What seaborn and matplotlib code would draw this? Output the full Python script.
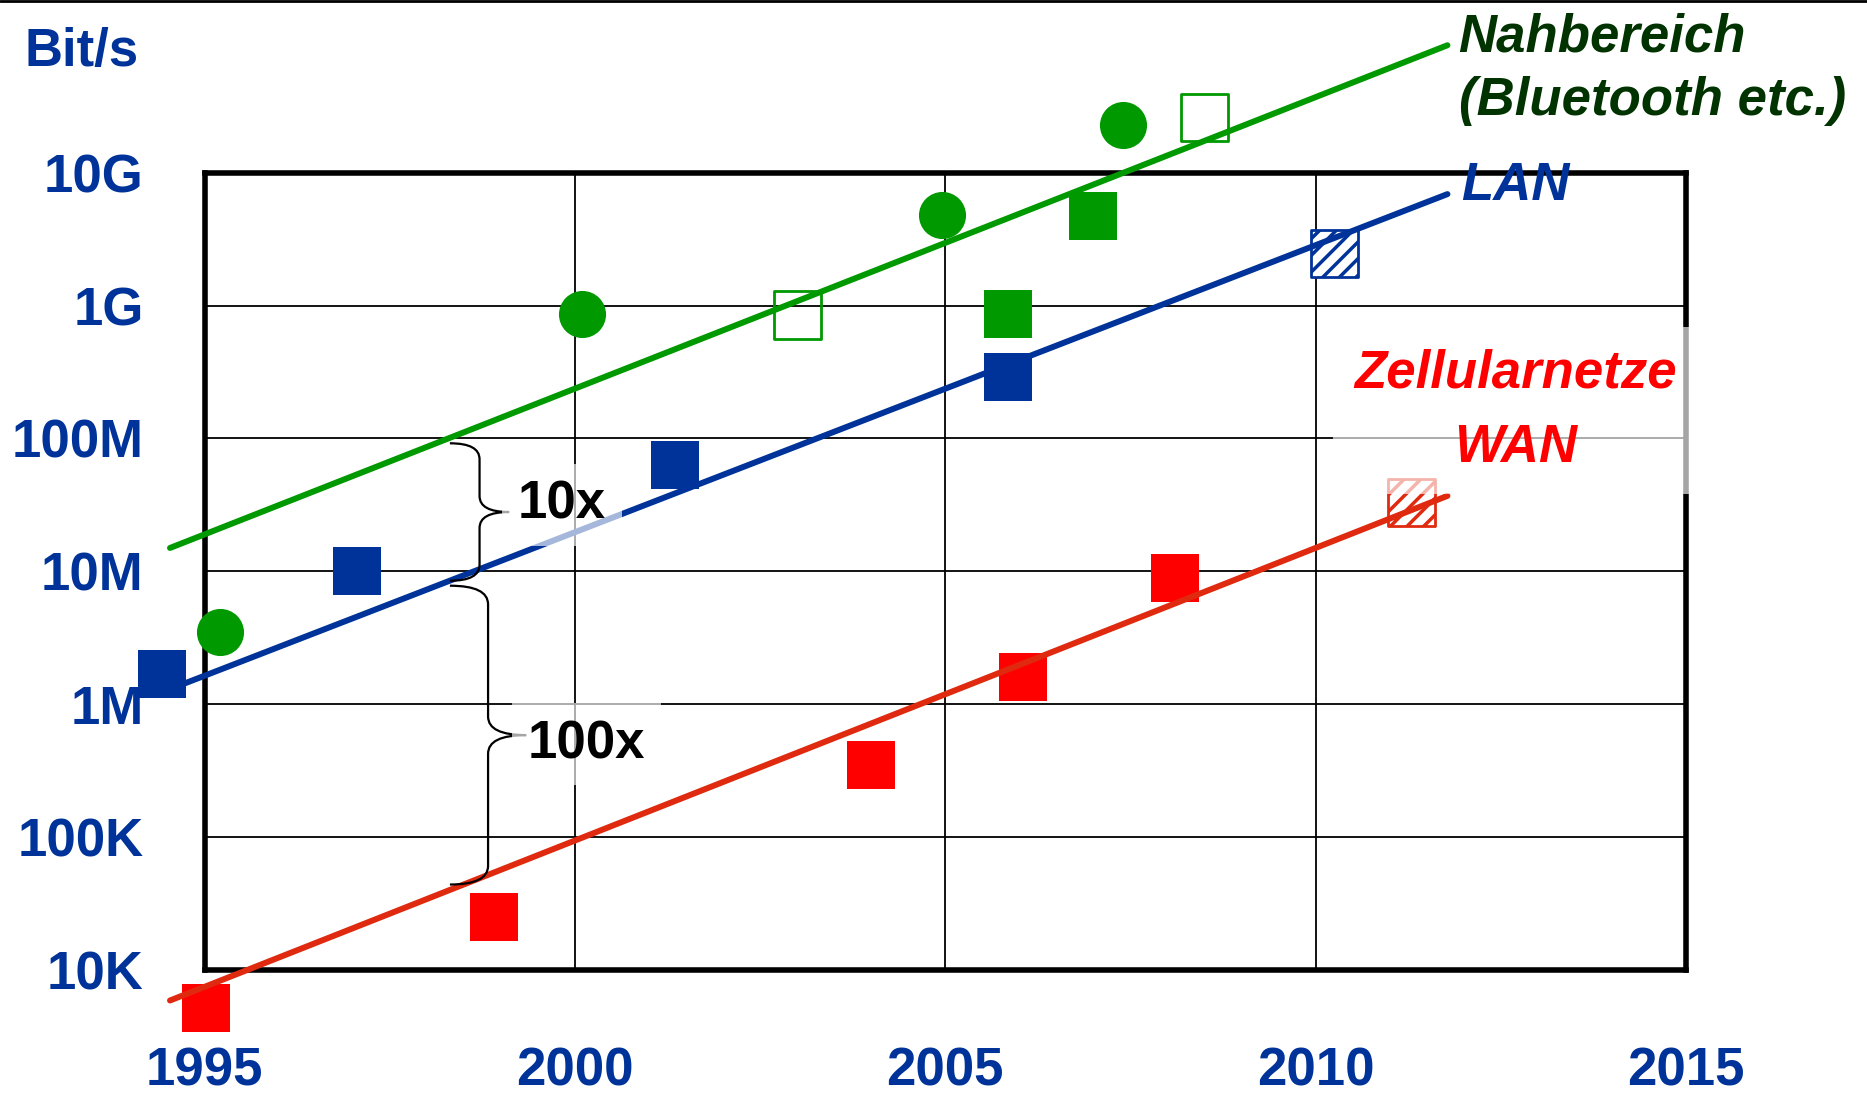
# Datenraten drahtloser Netze 1995-2015 (Nahbereich / LAN / WAN)
import numpy as np
import pandas as pd
import seaborn as sns
from matplotlib import pyplot as plt
from matplotlib.path import Path
from matplotlib.patches import PathPatch

# --- data -------------------------------------------------------------
# Nahbereich (Bluetooth etc.)
near_circle_years = [1995.2, 2000.1, 2004.95, 2007.4]
near_circle_bits  = [3.5e6, 8.7e8, 4.8e9, 2.3e10]
near_square_years = [2005.85, 2007.0]
near_square_bits  = [8.7e8, 4.7e9]
near_open_years   = [2003.0, 2008.5]
near_open_bits    = [8.5e8, 2.6e10]

# LAN
lan_years       = [1994.42, 1997.06, 2001.35, 2005.85]
lan_bits        = [1.7e6, 1.0e7, 6.3e7, 2.9e8]
lan_hatch_years = [2010.26]
lan_hatch_bits  = [2.45e9]

# Zellularnetze / WAN
wan_years       = [1995.02, 1998.9, 2004.0, 2006.05, 2008.1]
wan_bits        = [5.2e3, 2.5e4, 3.5e5, 1.6e6, 8.9e6]
wan_hatch_years = [2011.3]
wan_hatch_bits  = [3.3e7]

# trend lines
trend_years = [1994.53, 2011.78]
near_trend  = [1.5e7, 9.1e10]
lan_trend   = [1.3e6, 6.9e9]
wan_trend   = [5.9e3, 3.7e7]

# braces (year of brace ends, top value, bottom value)
brace_10x  = (1998.31, 9.2e7, 8.5e6)
brace_100x = (1998.31, 7.8e6, 4.4e4)

x_ticks  = [1995, 2000, 2005, 2010, 2015]
y_ticks  = [1e4, 1e5, 1e6, 1e7, 1e8, 1e9, 1e10]
y_labels = ['10K', '100K', '1M', '10M', '100M', '1G', '10G']

# --- colours ----------------------------------------------------------
green      = '#009900'
dark_green = '#003300'
blue       = '#003399'
red        = '#FF0000'
red_line   = '#E02A10'

sns.set_theme(style='white')
plt.rcParams['font.family'] = ['Liberation Sans', 'DejaVu Sans']
plt.rcParams['hatch.linewidth'] = 2.5
font_size = 38

fig = plt.figure(figsize=(18.67, 10.93), dpi=100)
ax = fig.add_axes([0.1097, 0.1125, 0.7933, 0.7295])
ax.set_yscale('log')
ax.set_xlim(1995, 2015)
ax.set_ylim(1e4, 1e10)

marker_size = 1150


def scatter(years, bits, marker, face, edge, z, hatch=None, lw=0):
    df = pd.DataFrame({'year': years, 'bits': bits})
    with plt.rc_context({'hatch.color': edge}):
        sns.scatterplot(data=df, x='year', y='bits', ax=ax, marker=marker,
                        s=marker_size, color=face, edgecolor=edge,
                        linewidth=lw, hatch=hatch, clip_on=False,
                        zorder=z, legend=False)


def trend(bits, color, z):
    df = pd.DataFrame({'year': trend_years, 'bits': bits})
    sns.lineplot(data=df, x='year', y='bits', ax=ax, color=color,
                 linewidth=4.3, clip_on=False, zorder=z)


def brace(spec, w, r):
    x0, v_top, v_bot = spec
    lt, lb = np.log10(v_top), np.log10(v_bot)
    lm = (lt + lb) / 2
    pts = [(x0, lt), (x0 + w, lt), (x0 + w, lt - r), (x0 + w, lm + r),
           (x0 + w, lm), (x0 + 2 * w, lm), (x0 + w, lm), (x0 + w, lm - r),
           (x0 + w, lb + r), (x0 + w, lb), (x0, lb)]
    codes = [Path.MOVETO, Path.CURVE3, Path.CURVE3, Path.LINETO,
             Path.CURVE3, Path.CURVE3, Path.CURVE3, Path.CURVE3,
             Path.LINETO, Path.CURVE3, Path.CURVE3]
    verts = [(x, 10 ** y) for x, y in pts]
    ax.add_patch(PathPatch(Path(verts, codes), fc='none', ec='black',
                           lw=1.6, clip_on=False, zorder=4))


# LAN: markers above the line
trend(lan_trend, blue, 3)
scatter(lan_years, lan_bits, 's', blue, blue, 3.5)
scatter(lan_hatch_years, lan_hatch_bits, 's', 'white', blue, 2.8,
        hatch='//', lw=2)

# Nahbereich and WAN: line above the markers
scatter(near_circle_years, near_circle_bits, 'o', green, green, 2.8)
scatter(near_square_years, near_square_bits, 's', green, green, 2.8)
scatter(near_open_years, near_open_bits, 's', 'none', green, 2.8, lw=2)
trend(near_trend, green, 3.2)

scatter(wan_years, wan_bits, 's', red, red, 2.8)
scatter(wan_hatch_years, wan_hatch_bits, 's', 'white', red_line, 2.8,
        hatch='//', lw=2)
trend(wan_trend, red_line, 3.2)

# axes, grid and ticks
ax.set_xticks(x_ticks)
ax.set_yticks(y_ticks)
ax.set_yticklabels(y_labels)
ax.minorticks_off()
ax.grid(True, color='black', linewidth=1.3)
ax.set_xlabel('')
ax.set_ylabel('')
ax.tick_params(axis='both', length=0, labelsize=font_size,
               labelcolor=blue)
ax.tick_params(axis='y', pad=44)
ax.tick_params(axis='x', pad=55)
for lab in ax.get_xticklabels() + ax.get_yticklabels():
    lab.set_fontweight('bold')
for sp in ax.spines.values():
    sp.set_color('black')
    sp.set_linewidth(4)

# braces and factors
brace(brace_10x, 0.40, 0.12)
brace(brace_100x, 0.515, 0.14)
box = dict(boxstyle='square,pad=0.3', fc='white', ec='none', alpha=0.65)
ax.text(1999.23, 10 ** 7.50, '10x', fontsize=font_size, fontweight='bold',
        color='black', ha='left', va='center', bbox=box, zorder=5)
ax.text(1999.36, 10 ** 5.70, '100x', fontsize=font_size, fontweight='bold',
        color='black', ha='left', va='center', bbox=box, zorder=5)

# series labels
ax.text(2011.93, 10 ** 10.78, 'Nahbereich\n(Bluetooth etc.)',
        fontsize=font_size, fontweight='bold', fontstyle='italic',
        color=dark_green, ha='left', va='center', linespacing=1.34,
        clip_on=False, zorder=5)
ax.text(2011.96, 10 ** 9.90, 'LAN', fontsize=font_size, fontweight='bold',
        fontstyle='italic', color=blue, ha='left', va='center',
        clip_on=False, zorder=5)
ax.text(2012.7, 10 ** 8.21, 'Zellularnetze\nWAN', fontsize=font_size,
        fontweight='bold', fontstyle='italic', color=red, ha='center',
        va='center', linespacing=1.63, multialignment='center',
        bbox=dict(boxstyle='square,pad=0.4', fc='white', ec='none',
                  alpha=0.65), clip_on=False, zorder=5)

# unit label
fig.text(0.013, 0.952, 'Bit/s', fontsize=font_size, fontweight='bold',
         color=blue, ha='left', va='center')

# thin frame line at the top of the slide
fig.add_artist(plt.Line2D([0, 1], [0.999, 0.999], transform=fig.transFigure,
                          color='black', linewidth=2))

fig.savefig('out.png', dpi=100)
